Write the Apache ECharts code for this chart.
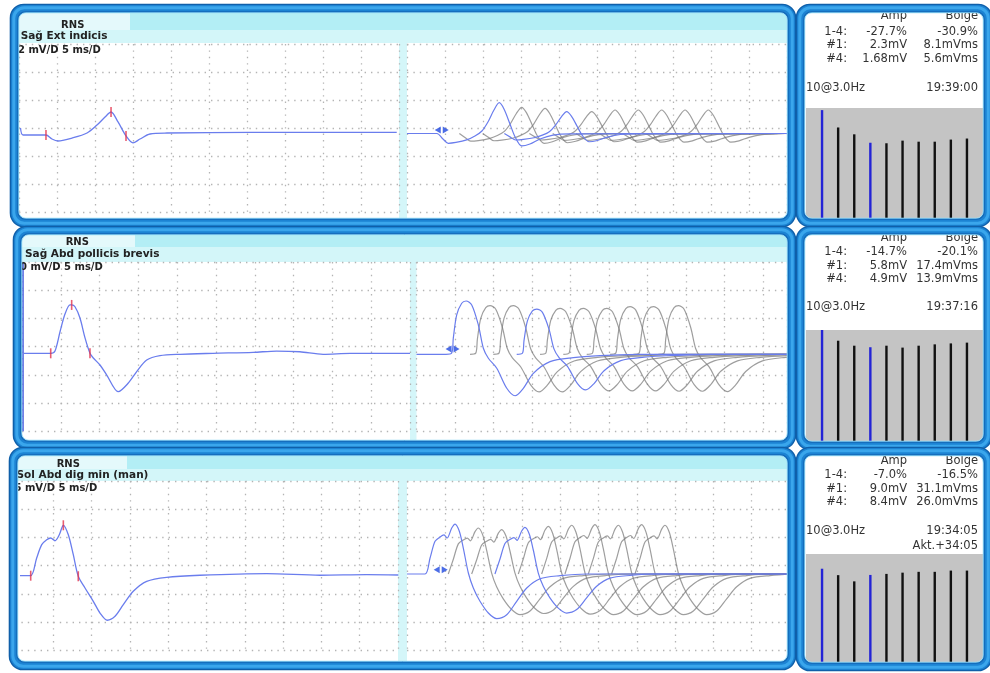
<!DOCTYPE html>
<html>
<head>
<meta charset="utf-8">
<script src="https://cdn.jsdelivr.net/npm/echarts@6/dist/echarts.min.js"></script>
<style>
html,body{margin:0;padding:0;background:#fff;}
#c{width:990px;height:673px;}
</style>
</head>
<body>
<div id="c"></div>
<script>
// ---------- recorded values ----------
const rowTitles = ['Sağ Ext indicis', 'Sağ Abd pollicis brevis', 'Sol Abd dig min (man)'];
const sweepLabels = ['2 mV/D 5 ms/D', '0 mV/D 5 ms/D', '5 mV/D 5 ms/D'];
const mvPerDiv = [2, 2, 2.5];

// first response of each train, [ms, mV]
const response1 = [[0.2,0.43],[0.53,-0.07],[3.55,-0.07],[4.34,-0.36],[5.13,-0.5],[6.97,-0.29],[8.95,0.07],[10.26,0.64],[11.32,1.21],[12.11,1.57],[13.03,0.86],[14.08,-0.14],[15.0,-0.64],[15.92,-0.36],[17.24,0],[19.47,0.07],[30.4,0.11],[49.7,0.11]];
const response2 = [[0.26,0],[3.7,0],[4.25,0.16],[4.9,1.53],[5.54,2.79],[6.19,3.43],[6.4,3.43],[6.83,3.3],[7.47,2.5],[8.12,1.09],[8.76,0],[9.19,-0.33],[10.05,-0.83],[10.92,-1.54],[12.41,-2.72],[13.7,-2.11],[14.78,-1.3],[16.07,-0.48],[17.78,-0.17],[20.36,-0.07],[24.6,0],[29.8,0.07],[32.8,0.16],[35.8,0.11],[38.8,-0.07],[42.3,0],[50.0,0]];
const response3 = [[0.65,0],[2.05,0],[2.83,1.57],[3.49,2.75],[4.14,3.19],[4.66,3.34],[5.22,3.1],[5.78,3.63],[6.31,4.47],[6.96,3.63],[7.61,1.86],[8.26,-0.05],[9.14,-1.09],[10.22,-2.27],[11.1,-3.31],[12.05,-3.95],[13.06,-3.6],[14.14,-2.57],[15.44,-1.38],[17.19,-0.5],[19.8,-0.14],[24.15,0.04],[32.86,0.18],[39.82,0.04],[45.91,0.09],[50.04,0.06]];

// onset / negative peak / end cursors on the first response, [ms, mV]
const cursors1 = [[3.55,-0.07],[12.11,1.57],[14.08,-0.14]];
const cursors2 = [[3.7,0],[6.4,3.43],[8.76,0]];
const cursors3 = [[2.05,0],[6.31,4.47],[8.26,-0.05]];

// train display: waveform of response #1 around its peak, [ms from peak, mV]
const trainShape1 = [[-8.2,0],[-7.41,-0.39],[-6.71,-0.7],[-5.7,-0.64],[-4.29,-0.46],[-3.2,-0.18],[-2.28,0.18],[-1.49,0.82],[-0.7,1.68],[0,2.2],[0.62,1.75],[1.41,0.68],[2.07,-0.23],[2.95,-0.89],[4.04,-0.75],[5.36,-0.39],[7.07,-0.11],[9.3,-0.02]];
const trainShape2 = [[-2.6,0],[-1.86,0.09],[-1.65,1.16],[-1.21,2.79],[-0.56,3.62],[0,3.78],[0.74,3.5],[1.6,2.08],[2.25,0.43],[2.9,-0.28],[3.99,-0.99],[5.29,-2.41],[6.36,-2.94],[7.44,-2.41],[8.74,-1.35],[10.91,-0.52],[13.94,-0.24],[17.4,-0.1],[22.6,0]];
const trainShape3 = [[-3.92,0],[-3.26,1.42],[-2.61,2.9],[-1.96,3.28],[-1.44,3.46],[-1.04,3.19],[-0.43,4.08],[0,4.43],[0.56,3.79],[1.08,2.3],[1.74,0.09],[2.39,-1.24],[3.26,-2.42],[4.35,-3.46],[5.44,-3.96],[6.75,-3.61],[8.05,-2.42],[9.36,-1.24],[11.1,-0.42],[13.71,-0.15],[17.2,0]];

// peak time (ms), peak and trough amplitude (mV) of the 10 responses
const trainPeakMs1 = [12.14,15.09,18.16,21.01,24.3,27.37,30.43,33.51,36.58,39.64];
const trainPeakMv1 = [2.2,1.87,1.8,1.56,1.56,1.68,1.68,1.68,1.68,1.68];
const trainTroughMv1 = [-0.89,-0.7,-0.66,-0.59,-0.59,-0.62,-0.62,-0.62,-0.62,-0.62];
const trainPeakMs2 = [6.43,9.55,12.57,15.61,18.64,21.66,24.7,27.73,30.76,34.0];
const trainPeakMv2 = [3.78,3.45,3.45,3.21,3.26,3.26,3.26,3.38,3.38,3.45];
const trainTroughMv2 = [-2.94,-2.67,-2.67,-2.53,-2.6,-2.6,-2.6,-2.62,-2.62,-2.65];
const trainPeakMs3 = [6.27,9.31,12.36,15.4,18.45,21.5,24.54,27.59,30.63,33.68];
const trainPeakMv3 = [4.43,4.08,3.93,4.14,4.23,4.32,4.37,4.32,4.37,4.32];
const trainTroughMv3 = [-3.96,-3.6,-3.5,-3.46,-3.55,-3.6,-3.6,-3.6,-3.6,-3.6];

// stimulus cursor of the train display, [ms, mV]
const trainCursor = [[4.57,0.25],[4.68,0.38],[4.40,0.38]];
// calibration cursor on the left sweep (ms), null when absent
const sweepCursorMs = [null, 0.13, null];

// amplitude of each response in the train (mV)
const responseNo = ['1','2','3','4','5','6','7','8','9','10'];
const barAmp1 = [2.3,1.97,1.84,1.68,1.67,1.72,1.70,1.70,1.74,1.76];
const barAmp2 = [5.8,5.24,4.98,4.9,4.98,4.88,4.98,5.05,5.10,5.14];
const barAmp3 = [9.0,8.38,7.78,8.4,8.5,8.62,8.7,8.7,8.82,8.82];

// decrement summary
const ampChange = ['-27.7%', '-14.7%', '-7.0%'];
const areaChange = ['-30.9%', '-20.1%', '-16.5%'];
const amp1 = ['2.3mV', '5.8mV', '9.0mV'];
const area1 = ['8.1mVms', '17.4mVms', '31.1mVms'];
const amp4 = ['1.68mV', '4.9mV', '8.4mV'];
const area4 = ['5.6mVms', '13.9mVms', '26.0mVms'];
const stimRate = ['10@3.0Hz', '10@3.0Hz', '10@3.0Hz'];
const recTimes = ['19:39:00', '19:37:16', '19:34:05'];
const extraNotes = ['', '', 'Akt.+34:05'];

// ---------- screen layout ----------
const layout = [
  {y0:13, y1:218, lx:19, lw:768, band:30, plotTop:43, rnsW:111,
   gl:19, glw:380, strip:[399,407], gr:407, grw:380, rMax:50,
   gTop:44, div:28, baseL:134, baseR:133.5,
   rnsX:72.7, rnsY:25, titleX:20.7, titleY:36.7, scaleX:18, scaleY:50.7,
   ry1:218, grayTop:108, txt:[16,31.7,45,59.3,87.7,103]},
  {y0:235, y1:440, lx:22, lw:765, band:247, plotTop:262, rnsW:113,
   gl:22, glw:388, strip:[410,416.5], gr:416.5, grw:370.5, rMax:48.1,
   gTop:262, div:28.2, baseL:353.3, baseR:354.3,
   rnsX:77.3, rnsY:242.3, titleX:25, titleY:254.3, scaleX:20, scaleY:267.7,
   ry1:441, grayTop:330, txt:[237.7,251.7,265.7,279.3,307.3,323]},
  {y0:456, y1:661, lx:18, lw:769, band:469, plotTop:481, rnsW:109,
   gl:15, glw:383, strip:[398,407], gr:407, grw:383, rMax:50,
   gTop:481, div:28.2, baseL:575.7, baseR:574,
   rnsX:68.3, rnsY:464, titleX:16.5, titleY:475.3, scaleX:14.5, scaleY:488.7,
   ry1:662, grayTop:554, txt:[460.7,474.7,488.7,502.3,530.7,546.3]}
];
const barRange = [[0.25, 2.34], [0, 5.8], [0, 10.42]];
const RP = {x:805, w:178, barX:814, barW:161};

const responses = [response1, response2, response3];
const sweepCursors = [cursors1, cursors2, cursors3];
const trainShapes = [trainShape1, trainShape2, trainShape3];
const trainPeakMs = [trainPeakMs1, trainPeakMs2, trainPeakMs3];
const trainPeakMv = [trainPeakMv1, trainPeakMv2, trainPeakMv3];
const trainTroughMv = [trainTroughMv1, trainTroughMv2, trainTroughMv3];
const barAmps = [barAmp1, barAmp2, barAmp3];

const FONT = '"DejaVu Sans", Verdana, sans-serif';
const BLUE = '#6a7ded';
const GRAY = 'rgba(120,120,120,0.72)';
const DOTS = {color:'#b4b4b4', width:1.3, type:[1.4, 5]};

const grids = [], xAxes = [], yAxes = [], series = [], graphics = [];

function divAxisX(gi, max) {
  return {type:'value', gridIndex:gi, min:0, max:max, interval:5, z:5,
    axisLine:{show:false}, axisTick:{show:false}, axisLabel:{show:false},
    splitLine:{show:true, lineStyle:DOTS}};
}
function divAxisY(gi) {
  return {type:'value', gridIndex:gi, min:0, max:6, interval:1, z:5,
    axisLine:{show:false}, axisTick:{show:false}, axisLabel:{show:false},
    splitLine:{show:true, lineStyle:DOTS}};
}
function mvAxis(gi, L, base, scale) {
  const bottom = L.gTop + 6 * L.div;
  return {type:'value', gridIndex:gi, show:false,
    min: -(bottom - base) / L.div * scale, max: (base - L.gTop) / L.div * scale};
}
function rect(x, y, w, h, fill, z, r) {
  graphics.push({type:'rect', silent:true, z:z, shape:{x:x, y:y, width:w, height:h, r:r || 0}, style:{fill:fill}});
}
function frame(x, y, w, h) {
  const s = (d, r, color, lw) => graphics.push({type:'rect', silent:true, z:50,
    shape:{x:x-d, y:y-d, width:w+2*d, height:h+2*d, r:r}, style:{fill:null, stroke:color, lineWidth:lw}});
  s(4.5, 10, '#1c83d3', 9);
  s(5.2, 10.5, '#3aa6ec', 3);
  s(8.6, 13.5, '#0f5fa9', 1.4);
  s(1.2, 7.5, '#1568b6', 1.2);
  s(0.2, 7, '#9fe0f6', 0.9);
}
function text(str, x, y, align, font, color, z) {
  graphics.push({type:'text', silent:true, z:z || 40, x:x, y:y,
    style:{text:str, font:font, fill:color || '#333', textAlign:align, textVerticalAlign:'middle'}});
}

layout.forEach((L, r) => {
  const scale = mvPerDiv[r];

  // ---- panel backgrounds ----
  rect(L.lx, L.y0, L.lw, L.y1 - L.y0, '#ffffff', 1);
  rect(L.lx, L.y0, L.lw, L.band - L.y0, '#b3eef5', 1);
  rect(L.lx, L.y0, L.rnsW, L.band - L.y0, '#e4f9fb', 1);
  rect(L.lx, L.band, L.lw, L.plotTop - L.band, '#d3f6f9', 1);
  rect(L.strip[0], L.plotTop, L.strip[1] - L.strip[0], L.y1 - L.plotTop, '#d4f6f9', 1);
  rect(RP.x, L.y0, RP.w, L.ry1 - L.y0, '#ffffff', 1);
  rect(RP.x + 1, L.grayTop, RP.w - 1, L.ry1 - L.grayTop, '#c4c4c4', 1);
  frame(L.lx, L.y0, L.lw, L.y1 - L.y0);
  frame(RP.x, L.y0, RP.w, L.ry1 - L.y0);

  // ---- header texts ----
  text('RNS', L.rnsX, L.rnsY, 'center', 'bold 10px ' + FONT, '#222');
  text(rowTitles[r], L.titleX, L.titleY, 'left', 'bold 10.5px ' + FONT, '#222');
  text(sweepLabels[r], L.scaleX, L.scaleY, 'left', 'bold 10px ' + FONT, '#222');

  // ---- summary texts ----
  const f = '11.5px ' + FONT, t = L.txt;
  text('Amp', 907, t[0], 'right', f);
  text('Bölge', 978, t[0], 'right', f);
  text('1-4:', 847, t[1], 'right', f);
  text(ampChange[r], 907, t[1], 'right', f);
  text(areaChange[r], 978, t[1], 'right', f);
  text('#1:', 847, t[2], 'right', f);
  text(amp1[r], 907, t[2], 'right', f);
  text(area1[r], 978, t[2], 'right', f);
  text('#4:', 847, t[3], 'right', f);
  text(amp4[r], 907, t[3], 'right', f);
  text(area4[r], 978, t[3], 'right', f);
  text(stimRate[r], 806, t[4], 'left', f);
  text(recTimes[r], 978, t[4], 'right', f);
  if (extraNotes[r]) text(extraNotes[r], 978, t[5], 'right', f);

  // ---- single sweep ----
  let gi = grids.length;
  grids.push({left:L.gl, top:L.gTop, width:L.glw, height:6 * L.div});
  let xi = xAxes.length; xAxes.push(divAxisX(gi, 50));
  yAxes.push(divAxisY(gi));
  let yi = yAxes.length; yAxes.push(mvAxis(gi, L, L.baseL, scale));
  const sweep = {type:'line', xAxisIndex:xi, yAxisIndex:yi, data:responses[r], smooth:0.3,
    symbol:'none', silent:true, z:8, lineStyle:{color:BLUE, width:1.3}};
  if (sweepCursorMs[r] !== null) {
    sweep.markLine = {silent:true, symbol:'none', label:{show:false},
      lineStyle:{color:'#4457de', width:1.5, type:'solid'}, data:[{xAxis:sweepCursorMs[r]}]};
  }
  series.push(sweep);
  series.push({type:'scatter', xAxisIndex:xi, yAxisIndex:yi, data:sweepCursors[r], silent:true, z:9,
    symbol:'rect', symbolSize:[1.6, 10], itemStyle:{color:'#e3344e'}});

  // ---- superimposed train ----
  gi = grids.length;
  grids.push({left:L.gr, top:L.gTop, width:L.grw, height:6 * L.div});
  xi = xAxes.length; xAxes.push(divAxisX(gi, L.rMax));
  yAxes.push(divAxisY(gi));
  yi = yAxes.length; yAxes.push(mvAxis(gi, L, L.baseR, scale));
  const shape = trainShapes[r], pk = trainPeakMs[r], pa = trainPeakMv[r], tr = trainTroughMv[r];
  const order = [1,2,4,5,6,7,8,9,0,3];
  order.forEach(i => {
    const pts = shape.map(([dt, v]) => [pk[i] + dt, v >= 0 ? v * pa[i] / pa[0] : v * tr[i] / tr[0]]);
    if (i === 0) pts.unshift([0, 0]);
    pts.push([L.rMax, 0]);
    const blue = (i === 0 || i === 3);
    series.push({type:'line', xAxisIndex:xi, yAxisIndex:yi, data:pts, smooth:0.3, symbol:'none',
      silent:true, z:blue ? 8 : 7, lineStyle:{color:blue ? BLUE : GRAY, width:1.2}});
  });
  const c = trainCursor[r];
  series.push({type:'scatter', xAxisIndex:xi, yAxisIndex:yi, silent:true, z:9, symbol:'triangle',
    symbolSize:[7, 6], itemStyle:{color:'#1f48e0'},
    data:[{value:c, symbolRotate:90, symbolOffset:[-4, 0]}, {value:c, symbolRotate:-90, symbolOffset:[4, 0]}]});

  // ---- amplitude bars ----
  gi = grids.length;
  grids.push({left:RP.barX, top:L.grayTop, width:RP.barW, height:L.ry1 - L.grayTop});
  xi = xAxes.length;
  xAxes.push({type:'category', gridIndex:gi, data:responseNo, show:false});
  yi = yAxes.length;
  yAxes.push({type:'value', gridIndex:gi, show:false, min:barRange[r][0], max:barRange[r][1]});
  series.push({type:'bar', xAxisIndex:xi, yAxisIndex:yi, barWidth:2.4, silent:true, z:8,
    data:barAmps[r].map((v, i) => ({value:v, itemStyle:{color:(i === 0 || i === 3) ? '#2424d6' : '#111111'}}))});
});

const chart = echarts.init(document.getElementById('c'));
chart.setOption({
  animation:false,
  backgroundColor:'#ffffff',
  grid:grids, xAxis:xAxes, yAxis:yAxes, series:series,
  graphic:{elements:graphics}
});
</script>
</body>
</html>
